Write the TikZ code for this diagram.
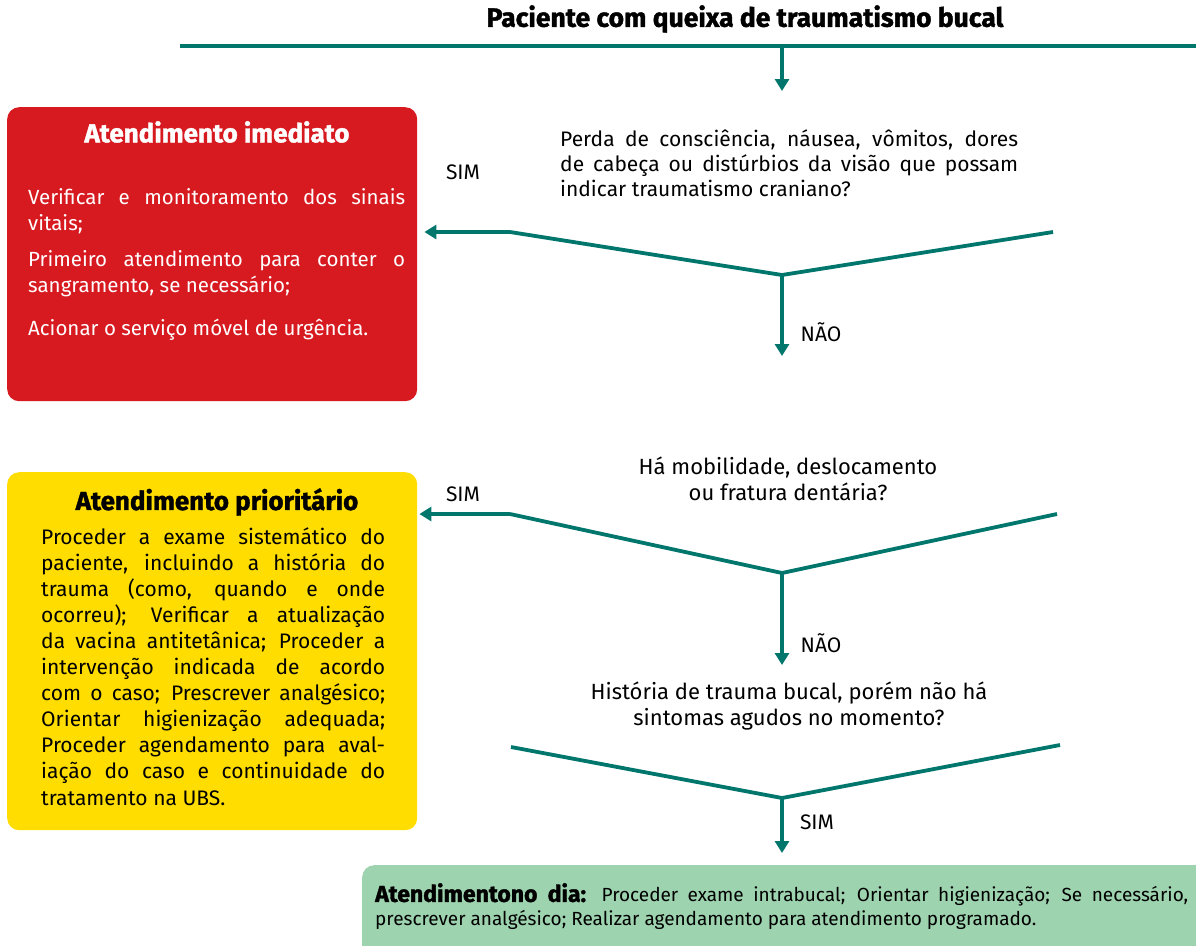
\documentclass[tikz,border=0pt]{standalone}
\usepackage{fontspec}
\setmainfont{Fira Sans}
\newfontfamily\heavyfont{Fira Sans}[BoldFeatures={FakeBold=1.5}]
\usetikzlibrary{arrows.meta}
\definecolor{flowteal}{RGB}{0,118,108}
\definecolor{boxred}{RGB}{215,25,32}
\definecolor{boxyellow}{RGB}{255,221,0}
\definecolor{boxgreen}{RGB}{157,211,174}
\tikzset{
 flowline/.style={draw=flowteal, line width=3.8pt},
 arr/.style={flowline, -{Triangle[length=12pt,width=14pt]}},
 box/.style={rounded corners=12pt, anchor=north west, inner sep=0pt, draw=none},
 body/.style={font=\fontsize{20.5}{26}\selectfont, align=justify, anchor=north west, inner sep=0pt},
 lbl/.style={font=\fontsize{21}{22}\selectfont, inner sep=0pt},
 head/.style={font=\heavyfont\fontsize{26}{28}\selectfont\bfseries, inner sep=0pt},
}
\begin{document}
\begin{tikzpicture}[x=1pt,y=-1pt]
\useasboundingbox (0,0) rectangle (1196,945);
\hyphenpenalty=10000 \tolerance=10000
% title
\node[font=\heavyfont\fontsize{26.5}{28}\selectfont\bfseries, inner sep=0pt] (title) at (745,19) {Paciente com queixa de traumatismo bucal};
\coordinate (hl) at (180,46); \coordinate (hr) at (1196,46); \coordinate (hm) at (782,46);
\coordinate (a0end) at (782,91);
\draw[flowline] (hl) -- (hr);
\draw[arr] (hm) -- (a0end);

% red box
\node[box, fill=boxred, minimum width=410pt, minimum height=294pt] (red) at (7,107) {};
\node[head, text=white] (redh) at (217,132) {Atendimento imediato};
\node[body, text=white, text width=377pt] (red1) at (28,188) {Verificar e monitoramento dos sinais\linebreak vitais;};
\node[body, text=white, text width=377pt] (red2) at (28,250) {Primeiro atendimento para conter o\linebreak sangramento, se necessário;};
\node[body, text=white, text width=377pt] (red3) at (28,319) {Acionar o serviço móvel de urgência.};

% question 1
\node[body, text width=458pt, font=\fontsize{21}{25}\selectfont] (q1) at (560,129) {Perda de consciência, náusea, vômitos, dores\linebreak de cabeça ou distúrbios da visão que possam\linebreak indicar traumatismo craniano?};
\node[lbl] (sim1) at (463,172) {SIM};
\coordinate (v1) at (782,275); \coordinate (v1l) at (510,232); \coordinate (v1r) at (1053,232);
\coordinate (a1end) at (782,356);
\draw[flowline] (v1r) -- (v1) -- (v1l);
\draw[arr, shorten >=7pt] (v1l) -- (red.east |- v1l);
\draw[arr] (v1) -- (a1end);
\node[lbl] (nao1) at (821,332) {NÃO};

% yellow box
\node[box, fill=boxyellow, minimum width=410pt, minimum height=358pt] (yellow) at (7,472) {};
\node[head] (yellowh) at (217,502) {Atendimento prioritário};
\node[body, text width=344pt, font=\fontsize{21}{26.1}\selectfont] (yellowb) at (41,527) {Proceder a exame sistemático do\linebreak paciente, incluindo a história do\linebreak trauma (como, quando e onde\linebreak ocorreu); Verificar a atualização\linebreak da vacina antitetânica; Proceder a\linebreak intervenção indicada de acordo\linebreak com o caso; Prescrever analgésico;\linebreak Orientar higienização adequada;\linebreak Proceder agendamento para aval-\linebreak iação do caso e continuidade do\linebreak tratamento na UBS.};

% question 2
\node[lbl, align=center, font=\fontsize{22}{26}\selectfont] (q2) at (788,479) {Há mobilidade, deslocamento\\ou fratura dentária?};
\node[lbl] (sim2) at (463,494) {SIM};
\coordinate (v2) at (782,573); \coordinate (v2l) at (510,514); \coordinate (v2r) at (1057,514);
\coordinate (a2end) at (782,665);
\draw[flowline] (v2r) -- (v2) -- (v2l);
\draw[arr, shorten >=2pt] (v2l) -- (yellow.east |- v2l);
\draw[arr] (v2) -- (a2end);
\node[lbl] (nao2) at (821,643) {NÃO};

% question 3
\node[lbl, align=center, font=\fontsize{22}{26}\selectfont] (q3) at (789,706) {História de trauma bucal, porém não há\\sintomas agudos no momento?};
\coordinate (v3) at (782,798); \coordinate (v3l) at (511,747); \coordinate (v3r) at (1060,745);
\draw[flowline] (v3r) -- (v3) -- (v3l);
\node[lbl] (sim3) at (817,822) {SIM};

% green box
\node[box, fill=boxgreen, minimum width=846pt, minimum height=100pt] (green) at (362,865) {};
\draw[arr, shorten >=12pt] (v3) -- (v3 |- green.north);
\node[body, text width=813pt, font=\fontsize{19}{24}\selectfont] (greenb) at (375,883) {{\heavyfont\bfseries\fontsize{23}{24}\selectfont Atendimentono dia:} Proceder exame intrabucal; Orientar higienização; Se necessário,\linebreak prescrever analgésico; Realizar agendamento para atendimento programado.};
\end{tikzpicture}
\end{document}
